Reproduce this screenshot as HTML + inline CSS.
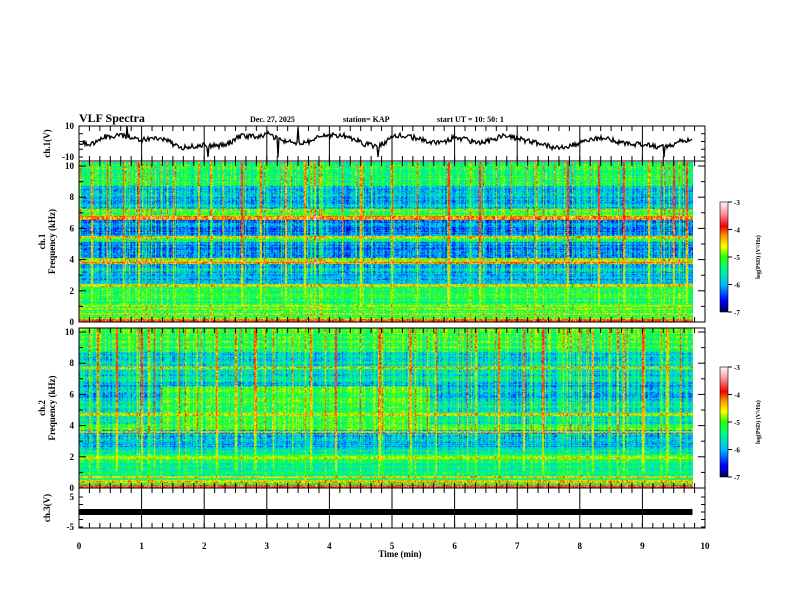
<!DOCTYPE html>
<html><head><meta charset="utf-8">
<style>
html,body{margin:0;padding:0;background:#fff;}
#wrap{position:relative;width:792px;height:612px;overflow:hidden;background:#fff;}
canvas{position:absolute;}
svg{position:absolute;left:0;top:0;}
text{font-family:"Liberation Serif",serif;font-weight:bold;fill:#000;}
</style></head>
<body>
<div id="wrap">
<canvas id="spec1" width="614" height="160" style="left:79px;top:162px;width:614px;height:160px"></canvas>
<canvas id="spec2" width="614" height="160" style="left:79px;top:328px;width:614px;height:160px"></canvas>
<canvas id="cb1" width="8" height="110" style="left:720px;top:202px;width:8px;height:110px"></canvas>
<canvas id="cb2" width="8" height="110" style="left:720px;top:367px;width:8px;height:110px"></canvas>
<svg id="svg" width="792" height="612"></svg>
</div>
<script>
// ---------- data ----------
const ch1Times = [0,0.2,0.4,0.6,0.8,1.0,1.2,1.4,1.6,1.8,2.0,2.2,2.4,2.6,2.8,3.0,3.2,3.4,3.6,3.8,4.0,4.2,4.4,4.6,4.8,5.0,5.2,5.4,5.6,5.8,6.0,6.2,6.4,6.6,6.8,7.0,7.2,7.4,7.6,7.8,8.0,8.2,8.4,8.6,8.8,9.0,9.2,9.4,9.6,9.8];
const ch1Values = [0,-2,3,4,3,1,2,1,-4,-3,-2,-3,-1,4,3,5,1,0,-1,2,4,4,1,-2,-3,3,4,2,0,-1,3,1,-1,1,4,2,0,-2,-4,-3,-1,2,2,0,-2,-2,-3,-4,1,1];
const ch1SpikeTimes = [0.77,2.06,3.18,3.5,4.78,9.35];
const ch1SpikeValues = [10,-10,-10,9,-10,-10];
const ch3Value = 0;
const freqEdges = [0,0.3,1.0,2.2,2.35,3.6,3.75,4.0,5.0,5.4,6.4,6.6,7.0,8.5,10];
const ch1Levels = [-5.0,-5.2,-5.25,-4.6,-5.9,-4.2,-4.7,-6.1,-5.1,-6.1,-4.2,-5.1,-5.8,-5.2];
const ch2Levels = [-5.2,-5.5,-5.35,-5.6,-5.9,-4.8,-5.3,-5.6,-5.5,-5.9,-5.9,-5.5,-5.7,-5.1];
const ch1LineFreqs = [0.1,0.5,0.8,1.0,2.25,3.7,5.3,6.5,7.0];
const ch1LineLevels = [-3.9,-4.6,-4.7,-4.6,-4.6,-4.1,-4.6,-4.1,-4.8];
const ch2LineFreqs = [0.1,0.4,0.7,1.9,3.5,4.6,7.5];
const ch2LineLevels = [-4.0,-4.5,-4.6,-4.6,-4.6,-4.7,-4.6];
const ch1StreakTimes = [0.2,0.45,0.7,0.95,1.5,1.9,2.3,2.6,2.9,3.3,3.6,4.2,4.5,5.0,5.4,5.9,6.4,6.9,7.3,7.8,8.3,8.7,9.1,9.3,9.5,9.7];
const ch2StreakTimes = [0.3,0.6,1.0,1.2,1.6,1.95,2.2,2.5,2.8,3.1,3.4,3.7,4.1,4.8,5.3,5.7,6.2,6.7,7.1,7.4,8.2,8.7,9.0,9.4,9.6];
const ch2QuietStart = 1.3, ch2QuietEnd = 5.6;
const xTicks = [0,1,2,3,4,5,6,7,8,9,10];
const freqTicks = [0,2,4,6,8,10];
const cbTicks = [-3,-4,-5,-6,-7];

const X0=79,X1=705;
const xs = t => X0 + (X1-X0)*t/10;
function hash(a,b){let h=(a*374761393+b*668265263)|0;h=(h^(h>>>13))*1274126177|0;h=h^(h>>>16);return (h>>>0)/4294967296;}
const stops=[[0,[0,0,90]],[0.1,[0,0,255]],[0.25,[0,190,255]],[0.4,[0,255,130]],[0.5,[40,255,0]],[0.6,[255,255,0]],[0.7,[255,140,0]],[0.78,[240,0,0]],[0.9,[255,150,160]],[1,[255,245,245]]];
function cmap(v){let t=(v+7)/4;t=Math.max(0,Math.min(1,t));for(let i=1;i<stops.length;i++){if(t<=stops[i][0]){const a=stops[i-1],b=stops[i];const f=(t-a[0])/(b[0]-a[0]);return a[1].map((c,k)=>Math.round(c+(b[1][k]-c)*f));}}return stops[stops.length-1][1];}

function drawSpec(id,levels,lineF,lineL,streaks,seed,quiet){
  const c=document.getElementById(id),ctx=c.getContext('2d');
  const W=c.width,H=c.height,img=ctx.createImageData(W,H);
  const colN=[];for(let x=0;x<W;x++){let r=hash(x,seed);colN.push((r-0.5)*0.8+(r>0.93?0.6:0));}
  const rowN=[];for(let y=0;y<H;y++)rowN.push((hash(seed,y+999)-0.5)*0.5);
  const streakStr=streaks.map((s,i)=>0.5+hash(i,seed+3)*0.5);
  for(let x=0;x<W;x++){
    const t=x/(X1-X0)*10;
    let st=0;for(let i=0;i<streaks.length;i++){const d=Math.abs(t-streaks[i])*62.6;if(d<0.8)st=Math.max(st,streakStr[i]);}
    for(let y=0;y<H;y++){
      const f=10*(1-(y+0.5)/H);
      let k=0;while(k<levels.length-1&&f>=freqEdges[k+1])k++;
      let v=levels[k];
      if(quiet&&t>quiet[0]&&t<quiet[1]&&f>3.7&&f<6.4)v=-5.1;
      for(let i=0;i<lineF.length;i++){if(Math.abs(f-lineF[i])<0.07)v=lineL[i];}
      v+=colN[x]*(f>3?1:0.5)+rowN[y]+(hash(x*7+seed,y*13)-0.5)*0.8;
      if(st>0&&f>1){const s=-5.0+st*1.2*Math.min(1,f/7)+(hash(y,x+seed)-0.5)*0.7;v=Math.max(v,s);}
      const col=cmap(v),p=(y*W+x)*4;
      img.data[p]=col[0];img.data[p+1]=col[1];img.data[p+2]=col[2];img.data[p+3]=255;
    }
  }
  ctx.putImageData(img,0,0);
}
drawSpec('spec1',ch1Levels,ch1LineFreqs,ch1LineLevels,ch1StreakTimes,11,null);
drawSpec('spec2',ch2Levels,ch2LineFreqs,ch2LineLevels,ch2StreakTimes,23,[ch2QuietStart,ch2QuietEnd]);
['cb1','cb2'].forEach(id=>{const c=document.getElementById(id),ctx=c.getContext('2d');for(let y=0;y<110;y++){const col=cmap(-3-4*y/109);ctx.fillStyle=`rgb(${col})`;ctx.fillRect(0,y,8,1);}});

const svg=document.getElementById('svg');const NS='http://www.w3.org/2000/svg';
function el(tag,attrs,parent){const e=document.createElementNS(NS,tag);for(const k in attrs)e.setAttribute(k,attrs[k]);(parent||svg).appendChild(e);return e;}
function txt(s,x,y,size,anchor,name,extra){const e=el('text',Object.assign({x:x,y:y,'font-size':size,'text-anchor':anchor||'start'},extra||{}));e.textContent=s;


return e;}
function line(x1,y1,x2,y2,w,name){const e=el('line',{x1,y1,x2,y2,stroke:'#000','stroke-width':w||1});


return e;}

txt('VLF Spectra',79,122,12,'start','figure-title');
txt('Dec. 27, 2025',250,122,8,'start','date-label');
txt('station= KAP',343,122,8,'start','station-label');
txt('start  UT  =    10: 50: 1',437,122,8,'start','start-time-label');

const panels=[
 {name:'ch1-panel',top:126,bot:161,ymin:-10,ymax:10,ytop:126,ybot:157,labels:[[10,'10'],[-10,'-10']],title:['ch.1(V)']},
 {name:'ch1-spec-panel',top:161,bot:322,ymin:0,ymax:10,ytop:166,ybot:322,freq:true,title:['ch.1','Frequency (kHz)']},
 {name:'ch2-spec-panel',top:328,bot:488,ymin:0,ymax:10,ytop:332,ybot:488,freq:true,title:['ch.2','Frequency (kHz)']},
 {name:'ch3-panel',top:488,bot:528,ymin:-5,ymax:5,ytop:497,ybot:527,labels:[[5,'5'],[-5,'-5']],title:['ch.3(V)']}
];
panels.forEach(P=>{
  const ys=v=>P.ybot-(P.ybot-P.ytop)*(v-P.ymin)/(P.ymax-P.ymin);
  const r=el('rect',{x:X0,y:P.top,width:X1-X0,height:P.bot-P.top,fill:'none',stroke:'#000','stroke-width':1});
  
  
  for(let i=0;i<=60;i++){const x=X0+(X1-X0)*i/60;const L=(i%6===0&&!P.freq)?(P.bot-P.top):5;
    line(x,P.top,x,P.top+L,1,P.name+'-x-tick-top');
    line(x,P.bot,x,P.bot-5,1,P.name+'-x-tick-bottom');}
  if(P.freq){
    for(let f=0;f<=10;f++){const y=ys(f),L=f%2===0?7:4;line(X0,y,X0+L,y,1,P.name+'-y-tick');line(X1,y,X1-L,y,1,P.name+'-y-tick-right');}
    freqTicks.forEach(f=>txt(String(f),X0-5,ys(f)+3,9,'end',P.name+'-y-label'));
  } else {
    P.labels.forEach(l=>txt(l[1],X0-5,ys(l[0])+3,9,'end',P.name+'-y-label'));
    for(let v=P.ymin;v<=P.ymax;v+=(P.ymax-P.ymin)/4){const y=ys(v);line(X0,y,X0+4,y,1,P.name+'-y-tick');line(X1,y,X1-4,y,1,P.name+'-y-tick-right');}
  }
  const cy=(P.top+P.bot)/2;
  P.title.forEach((s,i)=>{const x=50+i*10-(P.title.length-1)*5;txt(s,x,cy,9,'middle',P.name+'-y-title',{transform:`rotate(-90 ${x} ${cy})`});});
  P.ys=ys;
});
{const P=panels[0];let d='';const N=614;
 for(let i=0;i<N;i++){const t=i/(X1-X0)*10;let k=Math.min(ch1Times.length-2,Math.floor(t/0.2));const f=(t-ch1Times[k])/0.2;
  let v=ch1Values[k]*(1-f)+ch1Values[k+1]*f+(hash(i,5)-0.5)*3.5;
  for(let s=0;s<ch1SpikeTimes.length;s++){if(Math.abs(t-ch1SpikeTimes[s])*62.6<0.6)v=ch1SpikeValues[s];}
  v=Math.max(-10,Math.min(10,v));d+=(i?'L':'M')+(X0+i).toFixed(1)+' '+P.ys(v).toFixed(1);}
 const p=el('path',{d:d,fill:'none',stroke:'#000','stroke-width':1.3});
 
 }
{const P=panels[3];const y=P.ys(ch3Value);const r=el('rect',{x:X0,y:y-3,width:xs(9.8)-X0,height:6,fill:'#000'});
 
 }
xTicks.forEach(t=>txt(String(t),xs(t),549,9,'middle','x-tick-label'));
txt('Time  (min)',400,557,9,'middle','x-axis-title');
[[202,'ch1'],[367,'ch2']].forEach(([top,n])=>{
  const r=el('rect',{x:720,y:top,width:8,height:110,fill:'none',stroke:'#000','stroke-width':0.6});
  
  
  cbTicks.forEach(v=>{const y=top+110*(-3-v)/4;line(728,y,732,y,1,n+'-colorbar-tick');txt(String(v),734,y+3,7,'start',n+'-colorbar-label');});
  const x=760,cy=top+55;txt('log(PSD) (V²/Hz)',x,cy,6,'middle',n+'-colorbar-title',{transform:`rotate(-90 ${x} ${cy})`});
});
</script>
</body></html>
